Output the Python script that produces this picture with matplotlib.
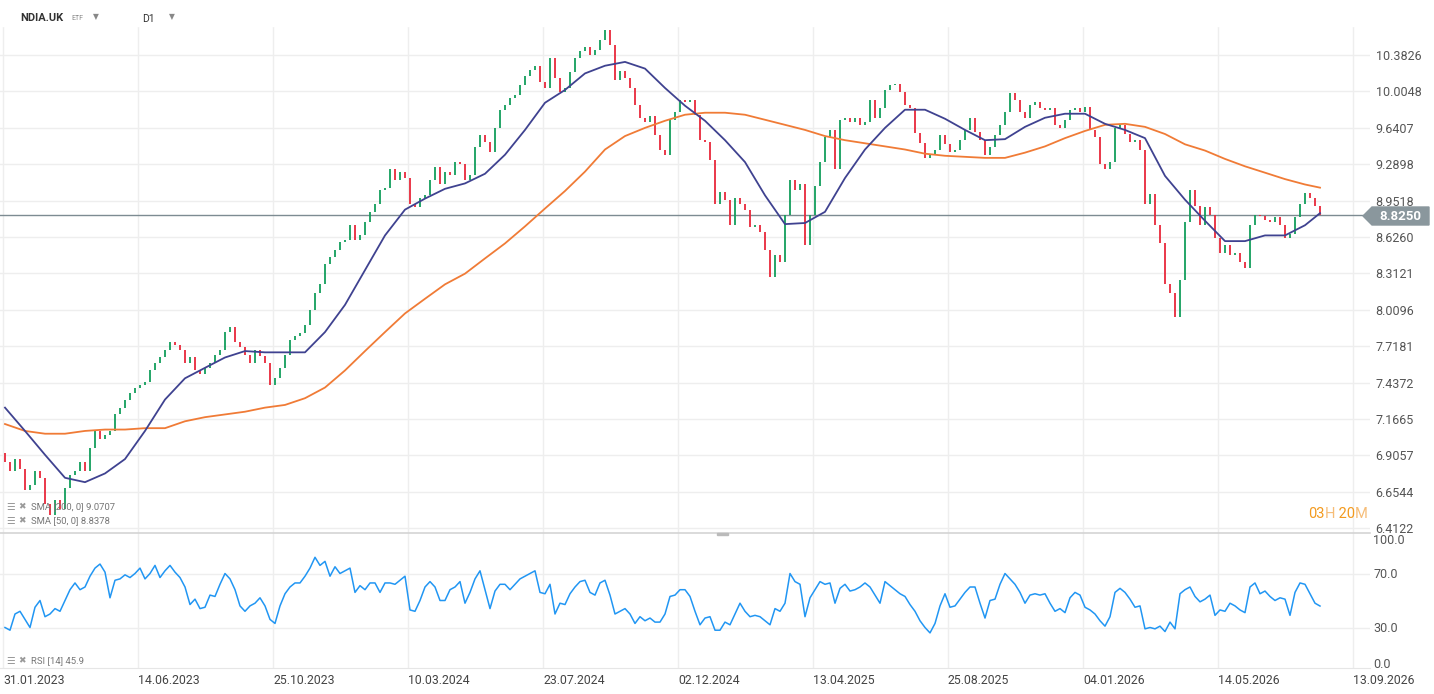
import matplotlib
matplotlib.use('Agg')
import matplotlib.pyplot as plt
from matplotlib.ticker import NullLocator, NullFormatter
from matplotlib.patches import Polygon, Rectangle
import numpy as np

plt.rcParams['font.family'] = ['Roboto', 'DejaVu Sans']

# ---- data (one bar every ~3.5 sessions) ----
first_open = 6.92
close_prices = [
    6.86, 6.80, 6.88, 6.81, 6.67, 6.70, 6.80, 6.75, 6.57, 6.50,
    6.60, 6.54, 6.68, 6.77, 6.80, 6.86, 6.80, 6.96, 7.08, 7.02,
    7.05, 7.08, 7.20, 7.25, 7.31, 7.36, 7.40, 7.42, 7.44, 7.53,
    7.59, 7.63, 7.69, 7.75, 7.73, 7.69, 7.59, 7.63, 7.53, 7.50,
    7.55, 7.59, 7.65, 7.69, 7.83, 7.87, 7.75, 7.71, 7.65, 7.59,
    7.69, 7.64, 7.59, 7.42, 7.47, 7.55, 7.65, 7.77, 7.80, 7.82,
    7.89, 8.01, 8.15, 8.22, 8.39, 8.45, 8.51, 8.58, 8.60, 8.73,
    8.60, 8.64, 8.76, 8.85, 8.92, 9.05, 9.07, 9.24, 9.14, 9.22,
    9.16, 8.92, 8.89, 8.98, 9.00, 9.14, 9.26, 9.10, 9.22, 9.19,
    9.31, 9.29, 9.14, 9.19, 9.45, 9.57, 9.50, 9.41, 9.64, 9.82,
    9.87, 9.94, 9.97, 10.07, 10.16, 10.23, 10.27, 10.10, 10.04, 10.35,
    10.14, 10.00, 10.04, 10.20, 10.35, 10.42, 10.47, 10.38, 10.44, 10.54,
    10.65, 10.49, 10.12, 10.21, 10.14, 10.04, 9.87, 9.74, 9.70, 9.76,
    9.57, 9.43, 9.38, 9.72, 9.80, 9.92, 9.90, 9.92, 9.77, 9.52,
    9.50, 9.33, 8.92, 9.03, 8.96, 8.73, 8.98, 8.92, 8.87, 8.71,
    8.73, 8.67, 8.51, 8.28, 8.47, 8.41, 8.82, 9.14, 9.05, 9.10,
    8.56, 8.82, 9.09, 9.31, 9.55, 9.62, 9.24, 9.72, 9.74, 9.70,
    9.74, 9.67, 9.70, 9.92, 9.74, 9.84, 10.02, 10.07, 10.08, 10.00,
    9.87, 9.84, 9.59, 9.49, 9.35, 9.38, 9.43, 9.57, 9.48, 9.41,
    9.43, 9.52, 9.62, 9.74, 9.60, 9.52, 9.38, 9.45, 9.57, 9.67,
    9.80, 9.99, 9.92, 9.80, 9.74, 9.87, 9.90, 9.84, 9.82, 9.84,
    9.67, 9.64, 9.72, 9.82, 9.84, 9.80, 9.85, 9.62, 9.55, 9.29,
    9.24, 9.31, 9.64, 9.67, 9.58, 9.50, 9.52, 9.43, 8.92, 9.01,
    8.73, 8.57, 8.22, 8.15, 7.95, 8.26, 8.76, 9.05, 8.90, 8.73,
    8.89, 8.82, 8.62, 8.49, 8.56, 8.47, 8.49, 8.41, 8.36, 8.73,
    8.82, 8.81, 8.78, 8.76, 8.80, 8.73, 8.62, 8.65, 8.80, 8.92,
    9.02, 8.98, 8.90, 8.825,
]

rsi_values = [
    30, 28, 40, 42, 36, 30, 45, 50, 38, 40,
    44, 42, 50, 58, 63, 58, 60, 68, 74, 77,
    71, 52, 65, 66, 69, 67, 70, 74, 66, 70,
    76, 67, 72, 76, 71, 67, 60, 47, 51, 44,
    45, 54, 53, 62, 70, 66, 58, 46, 42, 46,
    48, 52, 46, 36, 33, 46, 55, 60, 63, 63,
    68, 74, 82, 76, 79, 68, 75, 70, 72, 74,
    56, 61, 58, 63, 63, 56, 63, 63, 62, 65,
    68, 43, 42, 50, 60, 64, 60, 50, 50, 58,
    60, 64, 48, 56, 66, 72, 58, 44, 57, 62,
    62, 58, 62, 66, 68, 70, 72, 56, 55, 62,
    40, 48, 47, 55, 60, 64, 65, 56, 54, 63,
    65, 54, 40, 42, 44, 40, 33, 38, 35, 37,
    34, 34, 40, 53, 54, 58, 58, 53, 42, 32,
    37, 38, 28, 28, 34, 32, 40, 48, 42, 38,
    39, 38, 35, 32, 44, 42, 48, 70, 64, 62,
    38, 52, 58, 64, 62, 63, 48, 59, 62, 57,
    58, 60, 63, 60, 54, 48, 64, 61, 58, 55,
    53, 47, 42, 35, 30, 26, 33, 46, 55, 45,
    46, 51, 56, 60, 60, 48, 37, 50, 51, 62,
    70, 66, 62, 56, 48, 54, 55, 54, 55, 48,
    42, 44, 41, 52, 56, 54, 45, 43, 40, 35,
    31, 38, 56, 59, 56, 51, 45, 46, 29, 30,
    29, 31, 27, 34, 29, 55, 58, 60, 53, 49,
    51, 54, 39, 43, 42, 48, 46, 43, 41, 60,
    63, 55, 57, 53, 50, 52, 51, 39, 56, 63,
    62, 55, 48, 45.9,
]

# moving averages, one reading every 4 bars plus the last bar
sma50 = [
    7.25, 7.08, 6.91, 6.75, 6.72, 6.78, 6.88, 7.08, 7.31, 7.47,
    7.55, 7.63, 7.68, 7.67, 7.67, 7.67, 7.83, 8.05, 8.34, 8.64,
    8.87, 8.97, 9.06, 9.11, 9.20, 9.38, 9.62, 9.89, 10.02, 10.19,
    10.27, 10.31, 10.24, 10.04, 9.86, 9.71, 9.52, 9.31, 9.00, 8.74,
    8.75, 8.85, 9.16, 9.43, 9.64, 9.82, 9.82, 9.73, 9.62, 9.52,
    9.53, 9.65, 9.74, 9.78, 9.78, 9.68, 9.62, 9.54, 9.18, 8.96,
    8.77, 8.59, 8.59, 8.64, 8.64, 8.73, 8.8378,
]
sma200 = [
    7.13, 7.08, 7.06, 7.06, 7.08, 7.09, 7.09, 7.10, 7.10, 7.15,
    7.18, 7.20, 7.22, 7.25, 7.27, 7.32, 7.40, 7.53, 7.68, 7.83,
    7.98, 8.10, 8.22, 8.31, 8.44, 8.57, 8.72, 8.88, 9.04, 9.22,
    9.43, 9.56, 9.64, 9.71, 9.77, 9.79, 9.79, 9.77, 9.72, 9.67,
    9.62, 9.56, 9.52, 9.49, 9.46, 9.43, 9.39, 9.37, 9.36, 9.35,
    9.35, 9.40, 9.46, 9.54, 9.61, 9.67, 9.68, 9.65, 9.58, 9.48,
    9.42, 9.34, 9.27, 9.21, 9.15, 9.10, 9.0707,
]

price_ticks = [6.4122, 6.6544, 6.9057, 7.1665, 7.4372, 7.7181, 8.0096,
               8.3121, 8.6260, 8.9518, 9.2898, 9.6407, 10.0048, 10.3826]
date_labels = ['31.01.2023', '14.06.2023', '25.10.2023', '10.03.2024',
               '23.07.2024', '02.12.2024', '13.04.2025', '25.08.2025',
               '04.01.2026', '14.05.2026', '13.09.2026']
last_price = 8.8250

GREEN = '#129e5c'
RED = '#e8283a'
GRID = '#eeeeee'

W, H = 1434, 694
fig = plt.figure(figsize=(W / 100, H / 100), dpi=100)
fig.patch.set_facecolor('white')


def fx(px):
    return px / W


def fy(py):
    return 1 - py / H


ax = fig.add_axes([0, fy(533), fx(1370), 533 / H])
ax_rsi = fig.add_axes([0, fy(668), fx(1370), 135 / H])

closes = np.array(close_prices)
opens = np.concatenate([[first_open], closes[:-1]])
x = np.arange(len(closes))
up = closes >= opens
ax.vlines(x[up], opens[up], closes[up], color=GREEN, lw=1.3, zorder=3)
ax.vlines(x[~up], opens[~up], closes[~up], color=RED, lw=1.3, zorder=3)

sma_x = np.append(np.arange(0, 4 * (len(sma50) - 1), 4), len(closes) - 1)
ax.plot(sma_x, sma200, color='#f07b36', lw=1.3, zorder=4)
ax.plot(sma_x, sma50, color='#3f4290', lw=1.3, zorder=4)
ax.axhline(last_price, color='#7d8b92', lw=1, zorder=2)

ax.set_yscale('log')
ax.set_ylim(6.381, 10.981)
ax.set_yticks(price_ticks)
ax.set_yticklabels(['%.4f' % t for t in price_ticks])
ax.yaxis.set_minor_locator(NullLocator())
ax.yaxis.set_minor_formatter(NullFormatter())
ax.yaxis.tick_right()
ax.tick_params(axis='y', length=0, pad=4, labelsize=9, labelcolor='#555555')

tick_pos = [-0.4 + 27 * k for k in range(len(date_labels))]
for a in (ax, ax_rsi):
    a.set_xlim(-1, 273)
    a.set_xticks(tick_pos)
    a.grid(True, color=GRID, lw=1, zorder=0)
    for s in a.spines.values():
        s.set_visible(False)
ax.tick_params(axis='x', length=0, labelbottom=False)

# RSI pane
ax_rsi.plot(x, rsi_values, color='#2196f3', lw=1.1, zorder=3)
ax_rsi.set_ylim(0, 100)
ax_rsi.set_yticks([30, 70])
ax_rsi.tick_params(axis='y', length=0, labelleft=False, labelright=False)
ax_rsi.set_xticklabels(date_labels)
ax_rsi.tick_params(axis='x', length=0, pad=4, labelsize=8.8, labelcolor='#444444')
for lab in ax_rsi.get_xticklabels():
    lab.set_ha('left')
ax_rsi.spines['top'].set_visible(True)
ax_rsi.spines['top'].set_color('#d4d4d4')
ax_rsi.spines['top'].set_linewidth(1.2)
ax_rsi.spines['bottom'].set_visible(True)
ax_rsi.spines['bottom'].set_color('#e6e6e6')

for val, py in [('100.0', 541), ('70.0', 574), ('30.0', 628), ('0.0', 664)]:
    fig.text(fx(1373), fy(py), val, fontsize=9, color='#555555', va='center')

fig.add_artist(Rectangle((fx(717), fy(535)), fx(11), 2 / H, color='#bbbbbb',
                         transform=fig.transFigure, zorder=6))

# header band
fig.add_artist(Rectangle((0, fy(26)), fx(1370), 26 / H, color='white',
                         transform=fig.transFigure, zorder=5))
fig.text(fx(20), fy(18), 'NDIA.UK', fontsize=8, fontweight='bold', color='#333333',
         va='center', zorder=7)
fig.text(fx(71), fy(19), 'ETF', fontsize=5, color='#888888', va='center', zorder=7)
fig.text(fx(93), fy(17), '\u25BC', fontsize=5.5, color='#888888', va='center',
         family='DejaVu Sans', zorder=7)
fig.text(fx(142), fy(19), 'D1', fontsize=7.5, color='#333333', va='center', zorder=7)
fig.text(fx(169), fy(17), '\u25BC', fontsize=5.5, color='#888888', va='center',
         family='DejaVu Sans', zorder=7)

# indicator legends
for py, label in [(507, 'SMA [200, 0] 9.0707'), (521, 'SMA [50, 0] 8.8378'),
                  (661, 'RSI [14] 45.9')]:
    fig.text(fx(6), fy(py), '\u2630', fontsize=7, color='#9a9a9a', va='center',
             family='DejaVu Sans', zorder=7)
    fig.text(fx(18), fy(py), '\u2716', fontsize=6.5, color='#9a9a9a', va='center',
             family='DejaVu Sans', zorder=7)
    fig.text(fx(31), fy(py), label, fontsize=6.8, color='#777777', va='center', zorder=7)

# countdown
t1 = fig.text(fx(1308), fy(514), '03', fontsize=10.5, color='#f39a1e', va='center')
t2 = plt.annotate('H', xy=(1, 0), xycoords=t1, va='bottom', fontsize=10.5,
                  color='#f6bd78')
t3 = plt.annotate(' 20', xy=(1, 0), xycoords=t2, va='bottom', fontsize=10.5,
                  color='#f39a1e')
plt.annotate('M', xy=(1, 0), xycoords=t3, va='bottom', fontsize=10.5, color='#f6bd78')

# last price tag
tag = [(fx(1363), fy(216)), (fx(1372), fy(207)), (fx(1429), fy(207)),
       (fx(1429), fy(225)), (fx(1372), fy(225))]
fig.add_artist(Polygon(tag, closed=True, color='#8a979d', transform=fig.transFigure,
                       zorder=6))
fig.text(fx(1400), fy(216), '%.4f' % last_price, fontsize=9.5, fontweight='bold',
         color='white', ha='center', va='center', zorder=7)

fig.savefig('out.png', dpi=100, facecolor='white')
